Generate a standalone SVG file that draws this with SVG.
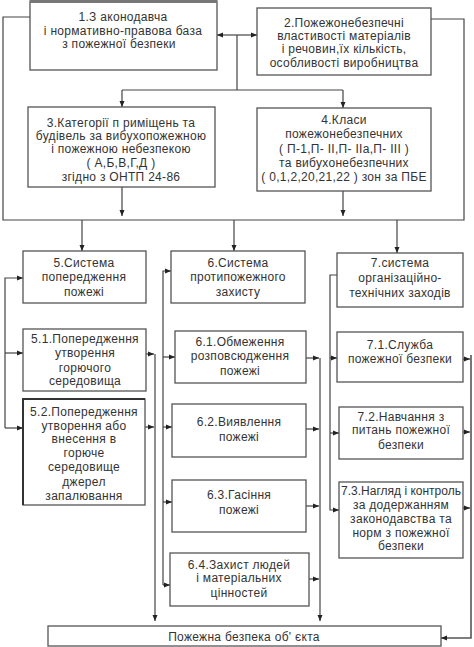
<svg xmlns="http://www.w3.org/2000/svg" width="474" height="647" viewBox="0 0 474 647">
<defs>
<marker id="ah" viewBox="0 0 6 6" refX="6" refY="3" markerWidth="6" markerHeight="6" markerUnits="userSpaceOnUse" orient="auto-start-reverse">
<path d="M0,0.5 L6,3 L0,5.5 Z" fill="#222"/>
</marker>
<style>
.box{fill:#fff;stroke:#555;stroke-width:1.3}
.t{font-family:"Liberation Sans",Arial,sans-serif;font-size:12px;fill:#333;text-anchor:middle;letter-spacing:0.3px}
.c{fill:none;stroke:#444;stroke-width:1.2}
.a{fill:none;stroke:#444;stroke-width:1.2;marker-end:url(#ah)}
</style>
</defs>
<rect width="474" height="647" fill="#fff"/>

<g id="connectors">
<path class="c" d="M30,17 H3 V220 H464 V19 H431"/>
<path class="a" d="M237,35 H217" />
<path class="a" d="M237,35 H257" />
<path class="c" d="M237,35 V90 M122,90 H343"/>
<path class="a" d="M122,90 V107"/>
<path class="a" d="M343,90 V108"/>
<path class="a" d="M122,187 V216"/>
<path class="a" d="M343,191 V216"/>
<path class="a" d="M82,220 V251"/>
<path class="a" d="M234,220 V251"/>
<path class="a" d="M397,220 V253"/>
<path class="a" d="M5,428 V278 H23"/>
<path class="a" d="M5,353 H23"/>
<path class="a" d="M5,428 H23"/>
<path class="a" d="M146,354 H154"/>
<path class="a" d="M145,427 H154"/>
<path class="a" d="M155,354 V621"/>
<path class="a" d="M163,585 V271 H171"/>
<path class="a" d="M163,357 H175"/>
<path class="a" d="M163,427 H172"/>
<path class="a" d="M163,502 H172"/>
<path class="a" d="M163,585 H170"/>
<path class="a" d="M306,358 H319"/>
<path class="a" d="M306,429 H319"/>
<path class="a" d="M306,506 H319"/>
<path class="a" d="M309,579 H319"/>
<path class="a" d="M320,358 V621"/>
<path class="a" d="M337,275 H330 V510 H339"/>
<path class="a" d="M330,358 H337"/>
<path class="a" d="M330,433 H339"/>
<path class="a" d="M463,359 H470"/>
<path class="a" d="M463,432 H470"/>
<path class="a" d="M463,508 H470"/>
<path class="a" d="M471,355 V638 H441" style="stroke:#555;stroke-width:1.6"/>
</g>

<g id="n1"><rect class="box" x="30" y="1" width="187" height="69" style="stroke-width:1.3"/><line x1="30" y1="1.5" x2="217" y2="1.5" stroke="#777" stroke-width="3"/>
<text class="t"><tspan x="123" y="21">1.З аконодавча</tspan><tspan x="123" y="35">і нормативно-правова база</tspan><tspan x="119" y="48">з пожежної безпеки</tspan></text></g>

<g id="n2"><rect class="box" x="257" y="8" width="174" height="67"/>
<text class="t"><tspan x="344" y="27">2.Пожежонебезпечні</tspan><tspan x="344" y="40">властивості матеріалів</tspan><tspan x="344" y="53">і речовин,їх кількість,</tspan><tspan x="344" y="67">особливості виробництва</tspan></text></g>

<g id="n3"><rect class="box" x="28" y="107" width="187" height="80"/>
<text class="t"><tspan x="121" y="127">3.Категорії п риміщень та</tspan><tspan x="121" y="140">будівель за вибухопожежною</tspan><tspan x="121" y="153">і пожежною небезпекою</tspan><tspan x="121" y="167">( А,Б,В,Г,Д )</tspan><tspan x="121" y="181">згідно з ОНТП 24-86</tspan></text></g>

<g id="n4"><rect class="box" x="257" y="108" width="174" height="83"/>
<text class="t"><tspan x="344" y="124">4.Класи</tspan><tspan x="344" y="138">пожежонебезпечних</tspan><tspan x="344" y="153">( П-1,П- ІІ,П- ІІа,П- ІІІ )</tspan><tspan x="344" y="167">та вибухонебезпечних</tspan><tspan x="344" y="181">( 0,1,2,20,21,22 ) зон за ПБЕ</tspan></text></g>

<g id="n5"><rect class="box" x="23" y="251" width="123" height="52"/>
<text class="t"><tspan x="84" y="267">5.Система</tspan><tspan x="84" y="281">попередження</tspan><tspan x="84" y="296">пожежі</tspan></text></g>

<g id="n6"><rect class="box" x="171" y="251" width="134" height="52"/>
<text class="t"><tspan x="238" y="267">6.Система</tspan><tspan x="238" y="281">протипожежного</tspan><tspan x="238" y="296">захисту</tspan></text></g>

<g id="n7"><rect class="box" x="337" y="253" width="126" height="54"/>
<text class="t"><tspan x="400" y="267">7.система</tspan><tspan x="400" y="282">організаційно-</tspan><tspan x="400" y="297">технічних заходів</tspan></text></g>

<g id="n51"><rect class="box" x="23" y="329" width="123" height="62"/>
<text class="t"><tspan x="85" y="343">5.1.Попередження</tspan><tspan x="85" y="357">утворення</tspan><tspan x="85" y="372">горючого</tspan><tspan x="85" y="385">середовища</tspan></text></g>

<g id="n52"><rect class="box" x="23" y="399" width="122" height="106"/><path d="M23,505 V399 H145" fill="none" stroke="#333" stroke-width="2"/>
<text class="t"><tspan x="84" y="416">5.2.Попередження</tspan><tspan x="84" y="430">утворення або</tspan><tspan x="84" y="443">внесення в</tspan><tspan x="84" y="457">горюче</tspan><tspan x="84" y="471">середовище</tspan><tspan x="84" y="486">джерел</tspan><tspan x="84" y="500">запалювання</tspan></text></g>

<g id="n61"><rect class="box" x="175" y="331" width="131" height="52"/>
<text class="t"><tspan x="240" y="346">6.1.Обмеження</tspan><tspan x="240" y="360">розповсюдження</tspan><tspan x="240" y="375">пожежі</tspan></text></g>

<g id="n62"><rect class="box" x="172" y="404" width="134" height="53"/>
<text class="t"><tspan x="239" y="426">6.2.Виявлення</tspan><tspan x="239" y="441">пожежі</tspan></text></g>

<g id="n63"><rect class="box" x="172" y="480" width="134" height="52"/>
<text class="t"><tspan x="239" y="499">6.3.Гасіння</tspan><tspan x="239" y="514">пожежі</tspan></text></g>

<g id="n64"><rect class="box" x="170" y="553" width="139" height="53"/>
<text class="t"><tspan x="239" y="569">6.4.Захист людей</tspan><tspan x="239" y="582">і матеріальних</tspan><tspan x="239" y="597">цінностей</tspan></text></g>

<g id="n71"><rect class="box" x="337" y="332" width="126" height="50"/>
<text class="t"><tspan x="400" y="349">7.1.Служба</tspan><tspan x="400" y="363">пожежної безпеки</tspan></text></g>

<g id="n72"><rect class="box" x="339" y="407" width="124" height="52"/>
<text class="t"><tspan x="401" y="421">7.2.Навчання з</tspan><tspan x="401" y="434">питань пожежної</tspan><tspan x="401" y="449">безпеки</tspan></text></g>

<g id="n73"><rect class="box" x="339" y="482" width="124" height="76"/>
<text class="t"><tspan x="401" y="495" style="letter-spacing:0">7.3.Нагляд і контроль</tspan><tspan x="401" y="509">за додержанням</tspan><tspan x="401" y="523">законодавства та</tspan><tspan x="401" y="537">норм з пожежної</tspan><tspan x="401" y="550">безпеки</tspan></text></g>

<g id="n8"><rect class="box" x="48" y="626" width="393" height="20"/>
<text class="t"><tspan x="244" y="641">Пожежна безпека об' єкта</tspan></text></g>
</svg>
